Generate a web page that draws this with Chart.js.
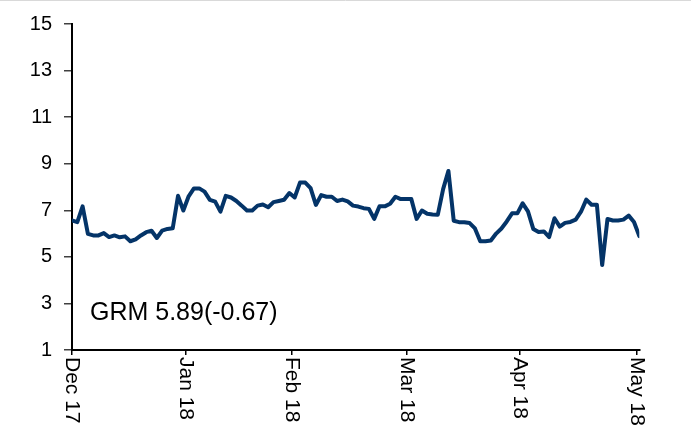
<!DOCTYPE html>
<html>
<head>
<meta charset="utf-8">
<script src="https://cdn.jsdelivr.net/npm/chart.js@4"></script>
<style>
  html, body { margin: 0; padding: 0; background: #fff; }
  canvas { display: block; }
</style>
</head>
<body>
<canvas id="c" width="691" height="437"></canvas>
<script>
// ---- data (trading-day index is the position in grmValues) ----
const grmValues = [
  6.56, 6.49, 7.17, 5.99, 5.92, 5.92, 6.02, 5.85, 5.92, 5.84,
  5.88, 5.67, 5.75, 5.92, 6.06, 6.12, 5.81, 6.13, 6.20, 6.23,
  7.62, 6.99, 7.60, 7.94, 7.94, 7.80, 7.45, 7.37, 6.94, 7.62,
  7.55, 7.40, 7.20, 6.99, 6.99, 7.20, 7.25, 7.13, 7.35, 7.40,
  7.45, 7.74, 7.55, 8.19, 8.19, 7.95, 7.23, 7.65, 7.58, 7.58,
  7.40, 7.46, 7.38, 7.20, 7.16, 7.09, 7.06, 6.63, 7.17, 7.17,
  7.28, 7.58, 7.48, 7.48, 7.48, 6.63, 6.99, 6.85, 6.82, 6.81,
  7.91, 8.69, 6.55, 6.49, 6.49, 6.45, 6.22, 5.67, 5.67, 5.70,
  6.00, 6.22, 6.52, 6.87, 6.87, 7.30, 6.95, 6.20, 6.07, 6.09,
  5.85, 6.66, 6.30, 6.46, 6.50, 6.60, 6.94, 7.46, 7.24, 7.24,
  4.65, 6.63, 6.56, 6.56, 6.60, 6.77, 6.50, 5.89
];
const monthLabels = ["Dec 17", "Jan 18", "Feb 18", "Mar 18", "Apr 18", "May 18"];
const monthTickDays = [0, 21.5, 41.5, 63.2, 84.5, 106.6];
const yTicks = [1, 3, 5, 7, 9, 11, 13, 15];
const annotationText = "GRM 5.89(-0.67)";

const LINE_COLOR = "#043468";
const FONT = '"Liberation Sans", Arial, sans-serif';

const points = grmValues.map((v, i) => ({ x: i, y: v }));

const xLabelPlugin = {
  id: "xLabels",
  afterDraw(chart) {
    const ctx = chart.ctx;
    const xs = chart.scales.x;
    ctx.save();
    ctx.fillStyle = "#000";
    ctx.font = "21px " + FONT;
    ctx.textAlign = "left";
    ctx.textBaseline = "middle";
    monthTickDays.forEach((d, i) => {
      const px = xs.getPixelForValue(d);
      ctx.save();
      ctx.translate(px, xs.top + 7);
      ctx.rotate(Math.PI / 2);
      ctx.fillText(monthLabels[i], 0, 0);
      ctx.restore();
    });
    // annotation
    ctx.font = "25px " + FONT;
    ctx.textBaseline = "alphabetic";
    ctx.fillText(annotationText, chart.chartArea.left + 18, 320);
    // faint top border
    ctx.strokeStyle = "#d9d9d9";
    ctx.lineWidth = 1;
    ctx.beginPath();
    ctx.moveTo(0, 0.5);
    ctx.lineTo(chart.width, 0.5);
    ctx.stroke();
    ctx.restore();
  }
};

new Chart(document.getElementById("c"), {
  type: "line",
  data: {
    datasets: [{
      data: points,
      borderColor: LINE_COLOR,
      borderWidth: 4,
      pointRadius: 0,
      tension: 0,
      fill: false,
      borderJoinStyle: "round",
      borderCapStyle: "round"
    }]
  },
  options: {
    responsive: false,
    animation: false,
    devicePixelRatio: 1,
    layout: { padding: { top: 20, right: 51.7, left: 0, bottom: 0 } },
    plugins: { legend: { display: false }, tooltip: { enabled: false } },
    scales: {
      x: {
        type: "linear",
        min: 0,
        max: grmValues.length - 1,
        afterBuildTicks(s) { s.ticks = monthTickDays.map(v => ({ value: v })); },
        afterFit(s) { s.height = 87; },
        ticks: { display: false, autoSkip: false },
        grid: { drawOnChartArea: false, drawTicks: true, tickLength: 5, color: "#000", lineWidth: 1.5 },
        border: { display: true, color: "#000", width: 2 }
      },
      y: {
        min: 1,
        max: 15,
        afterBuildTicks(s) { s.ticks = yTicks.map(v => ({ value: v })); },
        afterFit(s) { s.width = 72; },
        ticks: { color: "#000", font: { family: FONT, size: 20 }, padding: 12 },
        grid: { drawOnChartArea: false, drawTicks: true, tickLength: 8, color: "#404040", lineWidth: 1.5 },
        border: { display: true, color: "#000", width: 2 }
      }
    }
  },
  plugins: [xLabelPlugin]
});
</script>
</body>
</html>
